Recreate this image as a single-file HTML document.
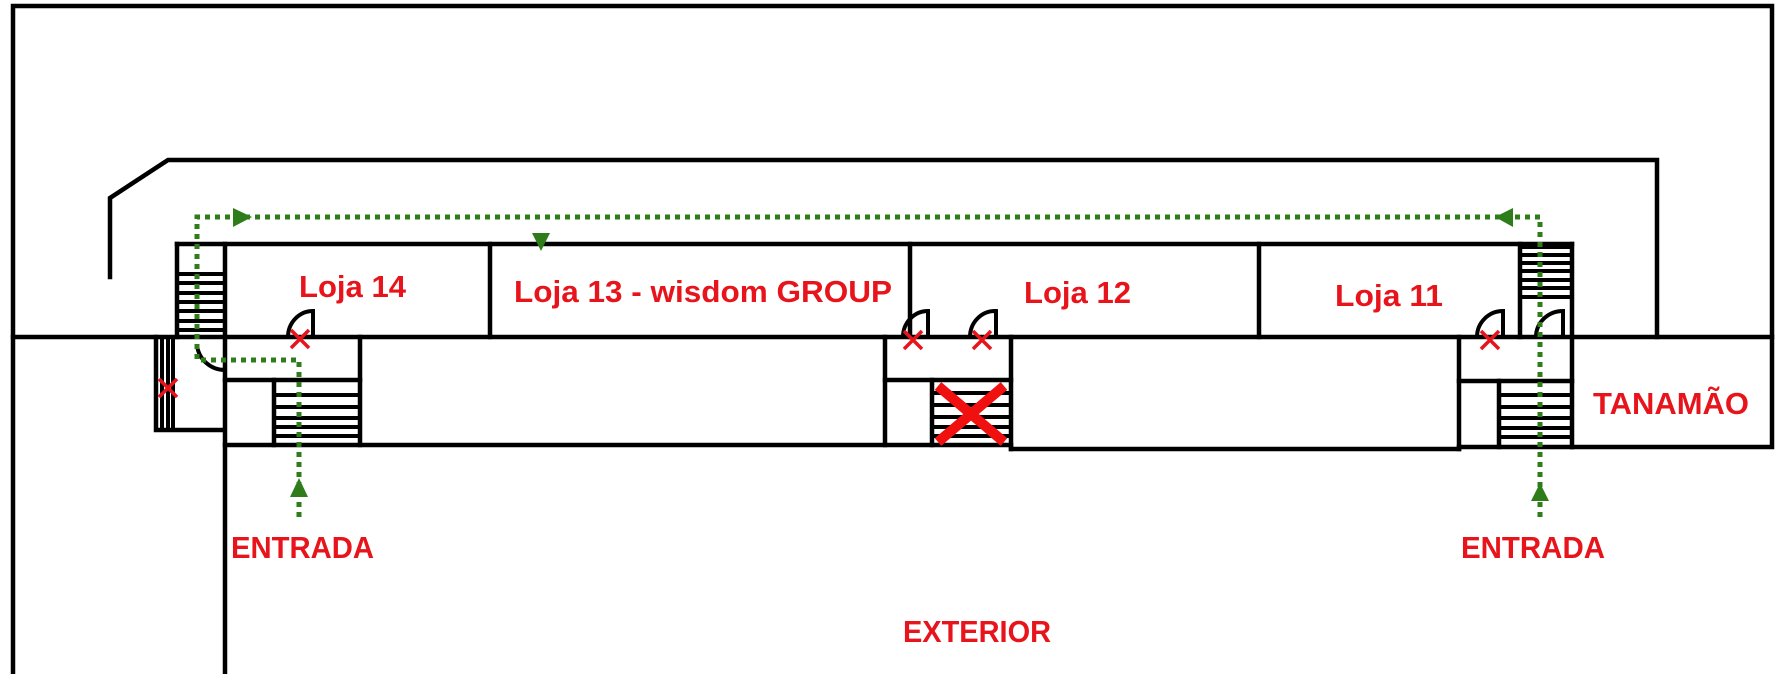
<!DOCTYPE html>
<html><head><meta charset="utf-8"><style>html,body{margin:0;padding:0;background:#fff}svg{display:block}</style></head>
<body>
<svg width="1781" height="674" viewBox="0 0 1781 674" xmlns="http://www.w3.org/2000/svg">
<g stroke="#000" stroke-width="4.5" fill="none" stroke-linecap="square">
<polyline points="13,674 13,6 1772,6 1772,447 1572,447"/>
<polyline points="110,277 110,198 168,160 1657,160 1657,337"/>
<line x1="13" y1="337" x2="1772" y2="337"/>
<line x1="177" y1="244" x2="1572" y2="244"/>
<line x1="490" y1="244" x2="490" y2="337"/>
<line x1="910" y1="244" x2="910" y2="337"/>
<line x1="1259" y1="244" x2="1259" y2="337"/>
<line x1="177" y1="244" x2="177" y2="337"/>
<line x1="225" y1="244" x2="225" y2="674"/>
<polyline points="156,337 156,430 224,430"/>
<line x1="225" y1="380" x2="360" y2="380"/>
<line x1="360" y1="337" x2="360" y2="445"/>
<line x1="274" y1="380" x2="274" y2="445"/>
<line x1="225" y1="445" x2="1011" y2="445"/>
<line x1="885" y1="337" x2="885" y2="445"/>
<line x1="1011" y1="337" x2="1011" y2="449"/>
<line x1="885" y1="380" x2="1011" y2="380"/>
<line x1="932" y1="380" x2="932" y2="445"/>
<line x1="1011" y1="449" x2="1459" y2="449"/>
<line x1="1459" y1="337" x2="1459" y2="449"/>
<line x1="1459" y1="447" x2="1572" y2="447"/>
<line x1="1459" y1="381" x2="1572" y2="381"/>
<line x1="1499" y1="381" x2="1499" y2="447"/>
<line x1="1572" y1="244" x2="1572" y2="447"/>
<line x1="1520" y1="244" x2="1520" y2="337"/>
</g>
<g stroke="#000" stroke-width="4" fill="none">
<path d="M177 274H225M177 283H225M177 293H225M177 302H225M177 311H225M177 321H225M177 330H225"/>
<path d="M162 337V430M168 337V430M173 337V430"/>
<path d="M274 395H360M274 407H360M274 418H360M274 427H360M274 436H360"/>
<path d="M932 393H1011M932 405H1011M932 417H1011M932 427H1011M932 436H1011"/>
<path d="M1499 395H1572M1499 407H1572M1499 418H1572M1499 428H1572M1499 437H1572"/>
<path d="M1520 247H1572M1520 255H1572M1520 263H1572M1520 271H1572M1520 280H1572M1520 288H1572M1520 297H1572"/>
<path d="M288 337 A25 26 0 0 1 313 311 V337"/>
<path d="M903 337 A25 26 0 0 1 928 311 V337"/>
<path d="M970 337 A25 26 0 0 1 996 311 V337"/>
<path d="M1477 337 A26 26 0 0 1 1503 311 V337"/>
<path d="M1536 337 A27 26 0 0 1 1563 311 V337"/>
<path d="M197 345 A28 28 0 0 0 225 370"/>
</g>
<g stroke="#e8141b" stroke-width="3.5" fill="none">
<path d="M291 330L309 348M309 330L291 348"/>
<path d="M904 331L922 349M922 331L904 349"/>
<path d="M973 331L991 349M991 331L973 349"/>
<path d="M1481 331L1499 349M1499 331L1481 349"/>
<path d="M159 379L177 397M177 379L159 397"/>
</g>
<path d="M938 386L1004 442M1004 386L938 442" stroke="#f01010" stroke-width="10" fill="none"/>
<g stroke="#2e7d1a" stroke-width="5" fill="none" stroke-dasharray="5 5">
<polyline points="1540,517 1540,217 197,217 197,360 299,360 299,517"/>
</g>
<g fill="#2e7d1a">
<polygon points="252,217 233,208 233,227"/>
<polygon points="1495,217 1513,208 1513,227"/>
<polygon points="541,251 532,233 550,233"/>
<polygon points="299,478 290,497 308,497"/>
<polygon points="1540,483 1531,501 1549,501"/>
</g>
<g fill="#e8141b" font-family="Liberation Sans, sans-serif" font-weight="bold" font-size="31">
<text x="299" y="297" textLength="107" lengthAdjust="spacingAndGlyphs">Loja 14</text>
<text x="514" y="302" textLength="378" lengthAdjust="spacingAndGlyphs">Loja 13 - wisdom GROUP</text>
<text x="1024" y="303" textLength="107" lengthAdjust="spacingAndGlyphs">Loja 12</text>
<text x="1335" y="306" textLength="108" lengthAdjust="spacingAndGlyphs">Loja 11</text>
<text x="1593" y="414" textLength="156" lengthAdjust="spacingAndGlyphs">TANAMÃO</text>
<text x="231" y="558" textLength="143" lengthAdjust="spacingAndGlyphs">ENTRADA</text>
<text x="1461" y="558" textLength="144" lengthAdjust="spacingAndGlyphs">ENTRADA</text>
<text x="903" y="642" textLength="148" lengthAdjust="spacingAndGlyphs">EXTERIOR</text>
</g>
</svg>
</body></html>
